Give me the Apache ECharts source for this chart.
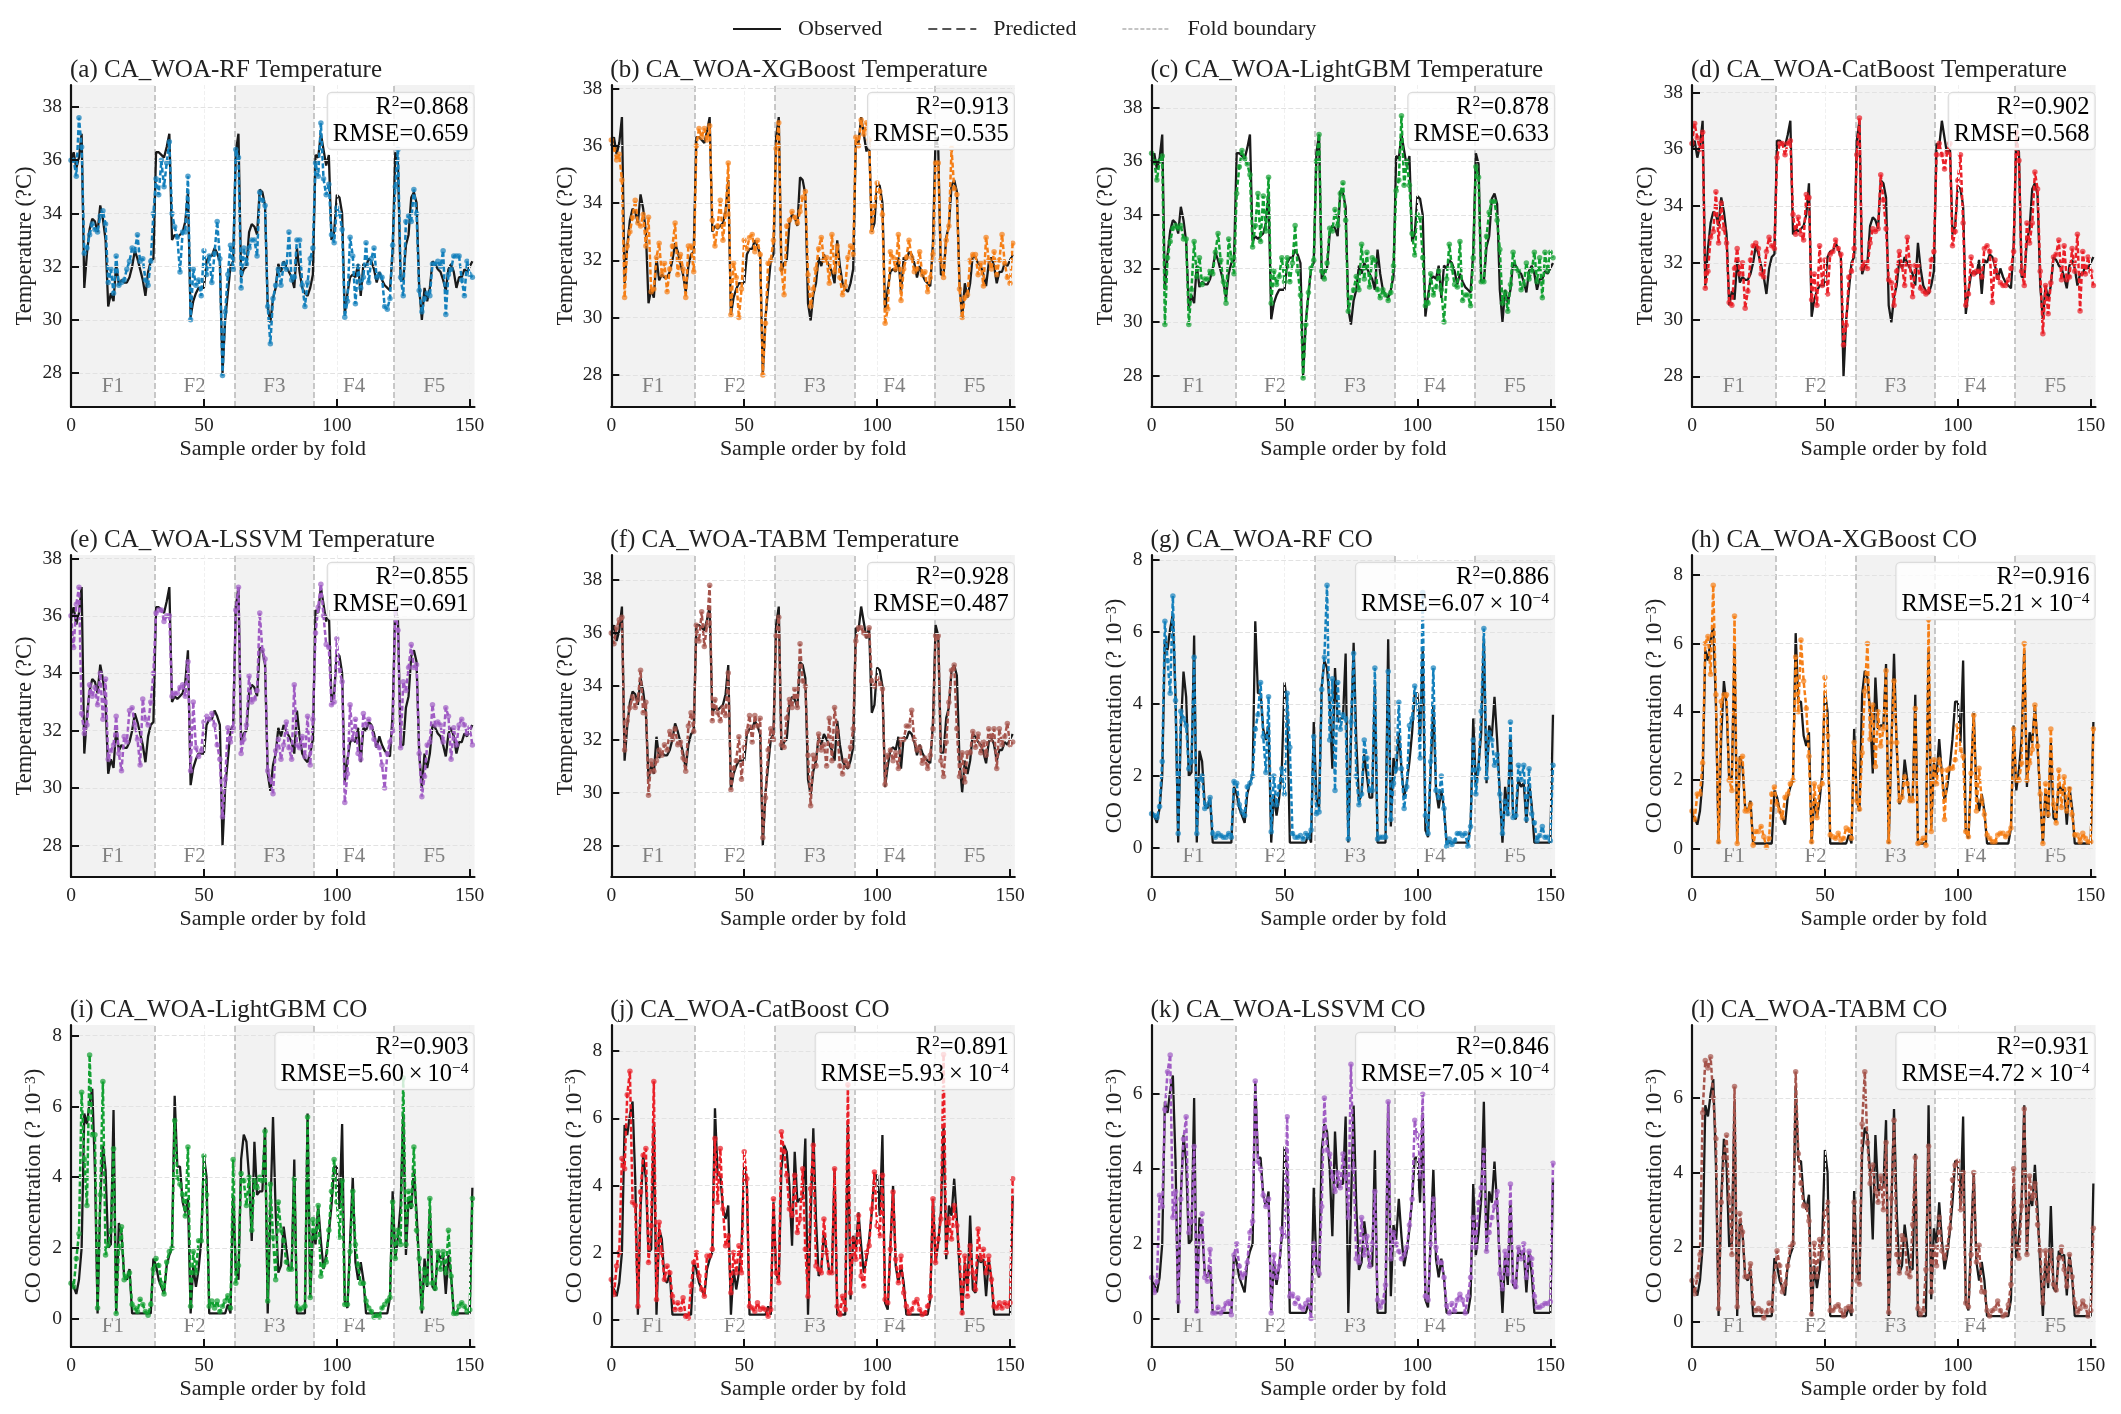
<!DOCTYPE html>
<html><head><meta charset="utf-8">
<script src="https://cdn.jsdelivr.net/npm/echarts@6/dist/echarts.min.js"></script>
<style>html,body{margin:0;padding:0;background:#fff}#c{width:2121px;height:1414px}</style>
</head><body><div id="c"></div>
<script>
const obsT=[
36.0,36.3,35.7,36.1,37.0,31.2,32.5,33.4,33.8,33.7,
33.3,34.3,33.8,33.0,30.5,31.0,30.7,32.1,31.3,31.5,
31.4,31.4,31.6,32.0,32.6,32.3,31.9,31.5,30.9,31.8,
32.2,32.3,36.3,36.3,36.2,36.1,36.5,37.0,33.0,33.2,
33.1,33.2,33.3,33.7,34.8,30.1,30.7,31.0,31.2,31.2,
31.2,32.2,32.4,32.4,32.7,32.5,32.2,28.0,30.0,31.0,
32.0,32.2,36.3,37.0,31.6,31.9,32.0,33.3,33.6,33.5,
33.2,34.9,34.8,34.3,30.5,29.9,30.8,31.2,32.1,31.8,
32.2,32.0,31.8,31.6,31.2,32.7,31.8,31.2,31.0,30.9,
31.2,31.7,36.2,36.1,37.0,36.4,35.8,36.2,33.0,33.3,
34.7,34.6,34.0,30.2,31.0,31.6,31.7,31.6,32.1,30.9,
32.1,32.0,32.3,32.2,31.9,31.4,31.8,31.5,31.3,31.2,
31.1,32.6,36.3,35.9,31.5,31.5,32.8,33.2,34.6,34.8,
34.4,31.2,30.0,31.2,30.7,31.2,32.2,32.1,31.9,31.8,
31.5,31.1,31.9,32.1,31.8,31.2,31.6,31.6,31.9,31.8,
32.0,32.2];
const obsCO=[
1.0,0.9,0.7,1.1,2.0,5.8,5.5,6.1,6.5,4.2,
0.15,3.3,4.9,4.2,2.0,2.1,5.9,0.15,2.7,2.4,
1.2,1.1,1.4,0.15,0.15,0.15,0.15,0.15,0.15,0.15,
0.15,1.7,1.5,1.1,0.9,0.7,1.5,1.8,2.0,6.3,
4.3,4.3,3.3,3.0,3.4,0.15,1.5,0.9,1.4,2.2,
4.6,4.0,0.15,0.15,0.15,0.15,0.15,0.15,0.15,0.4,
0.15,3.5,1.4,1.1,4.5,5.2,5.0,4.0,2.2,5.0,
3.5,3.6,3.6,5.4,0.15,3.0,5.7,3.0,1.3,1.5,
2.6,2.0,1.4,1.4,4.5,0.15,0.15,0.15,0.15,5.8,
0.6,2.5,2.1,3.2,2.2,1.4,1.8,2.4,3.2,4.3,
4.3,3.1,5.5,0.5,0.3,2.2,4.0,1.6,1.1,1.6,
1.1,0.15,0.15,0.15,0.15,0.15,0.15,0.15,0.15,0.15,
0.6,3.6,1.7,2.3,3.2,5.8,1.8,3.4,3.1,4.2,
3.0,1.5,0.15,1.7,0.9,3.1,0.9,0.8,1.9,1.7,
1.8,0.7,1.8,1.2,0.15,0.15,0.15,0.15,0.15,0.15,
0.15,3.7];
const predA=[
36.0,36.0,35.4,37.6,36.5,32.5,32.7,33.2,33.6,33.4,
33.3,33.9,34.1,33.6,31.4,31.9,31.0,32.4,31.3,31.4,
31.5,31.9,32.2,32.7,32.6,33.2,32.2,32.3,31.5,31.3,
32.2,34.0,35.3,34.7,36.0,35.0,35.9,36.7,34.0,33.5,
33.1,31.8,33.3,33.3,35.4,30.0,31.9,31.3,31.5,30.9,
32.6,31.7,32.4,31.4,32.5,33.7,32.3,27.9,30.3,31.7,
32.8,31.9,36.4,36.1,31.2,32.7,32.1,32.7,33.0,33.0,
32.4,34.8,34.5,34.3,30.5,29.1,30.8,31.3,31.9,31.3,
32.1,31.9,33.3,31.5,31.6,33.0,33.0,31.3,30.5,31.4,
32.3,32.7,35.9,35.4,37.4,35.3,34.7,35.1,33.2,32.9,
34.2,34.0,33.4,30.1,30.7,33.1,32.4,30.6,32.0,31.2,
31.6,32.9,31.4,32.3,32.7,31.6,31.7,31.6,30.5,30.4,
30.8,32.8,35.0,36.4,31.6,30.9,33.7,33.9,33.7,34.9,
34.0,31.1,30.3,30.8,31.0,30.9,32.1,32.1,32.2,32.0,
32.6,30.2,31.7,31.9,32.4,32.4,32.4,31.5,30.9,32.2,
31.7,31.6];
const predB=[
36.2,35.9,35.5,35.7,34.8,30.7,32.5,33.0,33.5,34.1,
33.3,33.2,33.6,32.5,33.5,30.9,31.0,32.1,32.6,31.5,
31.9,30.9,31.7,32.5,33.3,31.5,32.2,31.7,30.7,32.5,
32.5,31.6,36.0,36.6,36.3,36.6,36.2,36.7,33.4,32.5,
33.2,34.1,32.7,33.6,35.4,30.1,31.9,31.4,30.0,31.0,
32.7,32.4,32.8,32.9,32.3,32.7,32.2,28.0,29.8,31.9,
32.0,32.7,35.9,36.8,31.7,30.8,33.2,33.4,33.7,33.5,
33.3,33.7,34.2,34.4,31.5,30.4,31.0,31.7,32.4,32.8,
32.0,32.1,31.2,32.9,31.6,32.5,31.4,30.8,31.1,32.1,
32.5,32.2,36.3,36.0,36.9,36.4,36.8,36.2,33.0,33.9,
34.7,34.4,33.6,29.8,30.3,32.3,32.1,31.7,32.9,30.6,
31.7,32.1,32.7,32.1,31.6,31.7,32.3,31.5,31.6,30.9,
31.4,32.2,35.4,35.4,32.0,31.4,32.7,33.2,35.9,34.5,
34.3,31.0,30.0,30.7,30.8,32.0,32.2,32.2,31.5,31.9,
31.1,32.8,32.0,31.7,32.3,31.5,32.0,32.9,31.9,31.4,
31.2,32.6];
const predC=[
36.3,36.0,35.3,36.0,36.2,29.9,32.4,33.0,33.5,33.6,
33.5,33.6,33.1,33.1,29.9,31.2,33.0,31.7,32.4,31.4,
31.6,31.6,31.9,31.8,32.6,33.3,32.3,31.5,30.7,33.1,
32.4,31.8,34.8,35.8,36.4,36.1,35.9,35.5,32.8,33.6,
34.8,33.0,34.7,33.4,35.4,30.7,31.9,31.4,31.7,32.4,
31.5,32.4,31.5,32.2,33.6,31.9,31.0,27.9,29.9,31.1,
32.0,32.3,36.0,37.0,31.9,31.6,32.2,33.5,33.4,34.2,
33.6,34.8,35.2,33.8,30.4,30.9,31.2,31.7,31.2,32.9,
31.6,32.6,31.3,32.4,32.3,31.2,30.9,31.2,31.0,30.8,
31.1,32.1,34.9,35.3,37.7,35.1,36.0,35.1,33.3,32.5,
34.0,33.9,32.4,30.6,30.7,31.8,31.0,31.3,31.9,31.2,
30.0,31.6,32.9,32.0,31.4,31.3,33.0,30.8,31.0,31.0,
30.6,32.4,35.8,35.4,31.5,31.5,33.2,34.1,34.5,34.5,
33.8,32.7,30.7,31.1,30.4,31.4,32.6,32.0,31.9,31.2,
31.4,32.2,31.6,31.9,32.6,31.5,32.4,30.9,32.6,31.9,
32.6,32.4];
const predD=[
36.2,36.9,36.4,36.0,36.6,31.1,31.7,32.9,33.1,34.5,
32.7,34.1,33.2,32.7,30.6,30.5,31.8,32.5,31.6,32.0,
30.4,31.0,32.1,32.6,32.7,32.5,31.6,31.5,32.4,32.9,
32.6,32.5,35.7,36.2,36.2,35.8,36.2,36.3,33.7,33.0,
33.6,33.0,32.8,34.4,34.3,30.7,31.6,30.5,32.6,31.2,
32.1,30.9,32.3,32.4,32.8,32.5,32.3,29.1,29.8,31.5,
31.7,32.5,35.8,37.1,31.8,32.0,31.8,32.7,33.2,33.1,
33.2,35.1,34.2,33.2,31.4,31.3,30.5,31.7,32.4,31.9,
31.2,32.9,31.9,30.8,31.9,31.9,31.1,31.0,30.9,31.0,
32.1,32.4,35.8,36.2,35.8,35.3,35.9,36.2,32.6,33.1,
34.9,35.8,33.4,30.5,30.9,32.2,31.6,31.7,31.7,31.5,
32.5,32.6,32.4,30.6,32.1,31.5,31.3,31.2,31.2,31.4,
31.8,32.4,36.6,35.6,31.7,31.2,33.4,32.7,33.4,35.2,
34.6,31.7,29.5,31.2,30.2,31.3,32.2,32.3,32.8,31.4,
32.6,31.4,31.5,32.5,31.7,33.0,30.3,32.4,31.6,32.2,
31.7,31.2];
const predE=[
36.0,34.9,36.4,37.0,32.6,31.9,32.2,33.6,33.2,33.5,
32.9,34.0,32.4,33.8,31.0,31.3,31.5,32.5,31.2,30.6,
31.8,31.6,32.7,32.8,32.2,31.7,30.8,33.1,32.4,32.2,
33.0,34.0,36.1,36.2,36.2,35.8,36.0,36.0,33.2,33.3,
33.3,33.5,33.6,33.2,34.4,30.6,33.0,31.4,31.1,31.3,
32.3,32.5,32.4,32.6,32.2,31.5,31.0,29.0,30.3,32.1,
31.6,32.1,36.2,37.0,31.2,31.7,32.2,33.9,33.0,33.1,
33.4,36.1,34.8,34.5,30.6,30.3,29.8,31.3,31.7,31.0,
31.5,32.3,31.4,31.0,33.6,31.5,31.4,31.8,31.1,32.5,
30.8,32.4,35.4,36.3,37.1,36.0,35.0,34.9,32.9,33.0,
35.2,34.1,33.7,29.5,30.5,32.9,31.7,32.4,31.2,31.0,
32.6,32.2,32.4,32.1,31.7,31.5,31.4,30.8,30.0,31.2,
31.6,32.0,36.2,35.5,31.4,33.7,33.4,34.2,35.0,34.2,
34.3,31.2,29.7,30.4,31.5,31.6,32.9,32.2,32.3,32.2,
31.6,32.8,32.5,31.0,32.1,31.5,32.2,32.4,32.2,31.9,
32.1,31.5];
const predF=[
36.0,35.6,36.2,36.5,36.6,31.6,32.7,33.2,33.6,33.2,
33.5,34.6,33.0,33.4,29.9,31.2,30.8,31.2,31.6,31.4,
31.8,31.6,32.3,32.0,32.4,31.8,31.9,31.3,30.8,32.5,
33.0,32.3,36.3,35.7,36.8,35.5,36.3,37.8,32.7,33.5,
33.0,32.7,33.2,32.9,34.5,30.1,30.9,31.2,32.1,30.5,
31.7,32.3,32.9,31.9,32.9,32.5,32.8,28.3,29.8,31.6,
32.4,32.0,35.9,36.6,31.8,31.7,32.8,33.5,33.2,33.9,
33.2,35.6,34.2,34.0,31.4,29.5,31.4,31.0,32.2,31.6,
31.8,31.0,32.8,31.2,33.2,32.3,31.0,30.7,31.2,31.0,
31.7,32.4,35.7,36.2,36.2,36.0,35.9,36.2,34.2,34.0,
34.3,34.1,33.9,30.3,31.4,31.6,31.2,31.5,30.9,32.0,
32.0,32.5,32.5,33.1,32.0,31.6,31.7,31.1,31.3,30.9,
31.4,32.4,35.9,35.9,31.2,30.6,31.9,33.4,34.6,34.8,
32.4,30.6,31.5,30.4,31.5,31.5,32.3,31.7,32.2,31.5,
31.9,31.4,32.4,32.0,32.4,30.9,32.4,31.8,32.1,32.6,
31.8,31.9];
const predG=[
0.95,0.9,0.85,1.15,2.4,6.3,5.2,4.3,7.0,4.1,
0.4,3.8,3.6,3.4,2.2,2.4,5.3,0.4,1.9,2.0,
1.1,1.2,1.4,0.4,0.3,0.4,0.35,0.3,0.3,0.4,
0.3,1.85,1.8,1.2,1.0,0.9,1.7,1.8,2.0,3.3,
3.7,4.6,3.1,2.1,4.2,0.45,2.0,1.2,1.7,2.2,
1.5,4.3,2.8,0.4,0.3,0.3,0.35,0.25,0.4,0.3,
0.5,3.1,0.95,1.0,4.4,5.3,7.3,3.0,4.7,1.6,
4.6,3.3,3.7,3.6,0.25,3.5,5.4,2.0,1.2,1.5,
3.0,2.5,1.6,1.6,5.0,0.25,0.3,0.3,0.3,4.9,
0.8,1.8,2.2,4.05,2.2,1.1,1.7,3.4,3.6,4.5,
4.0,2.5,7.1,0.9,0.4,2.4,5.0,1.6,1.4,2.0,
1.1,0.05,0.25,0.1,0.2,0.4,0.4,0.35,0.4,0.05,
0.6,3.0,1.5,2.2,3.8,6.1,1.95,3.2,3.0,2.3,
2.6,1.5,0.4,1.3,0.95,3.5,0.85,0.9,2.3,1.9,
2.3,0.8,2.2,0.95,0.7,0.2,0.35,0.6,0.3,0.3,
0.2,2.3];
const predH=[
1.1,0.85,1.6,1.6,2.5,6.0,6.2,5.1,7.7,4.5,
0.2,4.3,4.5,4.5,2.0,1.7,6.8,0.15,2.6,2.7,
1.1,1.1,1.3,0.1,0.5,0.5,0.65,0.35,0.05,0.3,
1.6,1.8,1.3,1.1,0.9,1.5,1.6,1.9,2.0,5.6,
4.0,6.1,4.9,4.1,2.7,0.2,1.9,0.9,1.8,1.9,
5.0,3.3,0.4,0.35,0.3,0.45,0.25,0.3,0.6,0.55,
0.3,3.1,1.4,1.15,2.8,4.6,6.0,3.2,4.2,2.4,
4.0,3.0,3.5,5.2,0.2,3.1,4.9,3.1,1.4,1.5,
2.1,1.9,1.4,1.4,4.1,0.15,0.2,0.3,0.1,6.7,
0.5,2.6,1.9,2.6,2.3,0.85,2.3,2.35,2.35,2.6,
3.6,2.9,2.7,0.5,0.35,2.2,3.9,1.1,2.35,1.4,
1.0,0.4,0.3,0.2,0.2,0.4,0.45,0.45,0.35,0.45,
0.6,3.5,2.0,2.0,2.5,6.0,2.0,2.5,2.9,4.2,
3.0,1.6,0.15,1.9,1.0,3.5,1.3,0.75,2.3,1.2,
2.1,1.1,1.75,1.0,0.4,0.4,0.2,0.45,0.3,0.2,
0.2,3.5];
const predI=[
1.0,0.9,1.7,2.4,6.4,4.5,3.2,7.45,5.2,5.2,
0.3,3.5,6.7,1.8,2.1,2.5,4.8,0.15,2.0,2.6,
1.1,1.2,1.3,0.4,0.3,0.2,0.55,0.4,0.2,0.1,
0.4,1.4,1.7,1.5,1.0,0.7,1.6,1.9,2.0,5.6,
4.0,3.8,3.5,2.9,4.85,0.35,1.9,1.3,2.2,2.2,
4.6,3.5,0.35,0.5,0.3,0.5,0.2,0.35,0.5,0.65,
0.3,4.5,1.0,1.5,4.1,3.9,3.2,4.0,2.5,3.9,
3.7,4.0,3.9,5.3,0.5,3.8,2.3,1.1,3.3,2.5,
2.2,1.6,1.4,1.4,3.95,0.35,0.25,0.3,0.35,5.7,
0.6,2.8,2.3,3.2,1.2,1.5,1.6,2.5,3.6,4.5,
3.3,2.3,3.9,0.4,0.4,1.9,3.6,2.1,1.5,1.0,
1.0,0.5,0.3,0.2,0.05,0.1,0.05,0.3,0.4,0.5,
0.6,3.3,1.7,2.5,2.1,6.8,2.1,3.6,3.2,4.85,
2.5,1.7,0.3,1.4,1.0,3.4,1.0,0.85,1.9,1.4,
1.9,1.3,2.5,1.2,0.15,0.15,0.35,0.45,0.35,0.2,
0.25,3.4];
const predJ=[
1.2,0.75,1.6,2.0,4.8,4.5,6.7,7.4,3.5,3.4,
0.4,3.8,4.9,5.1,1.7,2.8,7.1,0.6,2.9,2.0,
1.2,1.6,1.4,0.7,0.3,0.5,0.3,0.65,0.1,0.05,
1.0,1.7,2.0,1.3,0.9,0.7,1.9,1.9,2.1,5.4,
3.5,5.1,3.3,2.2,2.5,0.8,2.0,1.4,2.2,1.4,
5.0,4.2,0.4,0.35,0.25,0.5,0.3,0.35,0.3,0.1,
0.3,3.6,1.4,1.1,5.6,5.0,4.3,3.3,3.1,4.3,
2.6,3.0,4.5,2.1,0.7,3.9,5.2,1.6,1.5,1.4,
3.0,2.0,1.4,1.4,4.5,0.4,0.15,0.7,0.3,7.0,
0.8,2.4,1.8,3.1,1.3,1.0,2.0,2.2,3.3,4.4,
2.8,2.5,4.3,0.6,0.5,2.1,3.8,1.8,1.1,1.9,
0.8,0.4,0.2,0.3,0.5,0.6,0.3,0.15,0.2,0.4,
0.7,3.6,1.7,2.4,3.0,7.9,2.0,3.0,2.4,3.4,
2.8,2.0,0.2,1.9,0.7,2.2,1.4,0.9,2.7,1.8,
2.1,1.4,1.9,1.2,0.4,0.35,0.5,0.35,0.5,0.4,
0.5,4.2];
const predK=[
1.1,0.7,1.0,3.3,3.0,5.6,6.6,7.05,2.7,3.4,
0.45,3.2,4.8,5.4,2.3,2.6,4.6,0.2,2.2,2.8,
1.1,1.0,1.85,0.15,0.15,0.3,0.15,0.25,0.4,0.45,
0.1,1.7,2.0,1.4,1.1,1.2,1.5,2.3,2.6,6.35,
4.2,4.0,3.3,3.0,3.2,0.15,1.7,1.1,1.4,2.4,
2.2,5.4,0.6,0.65,0.4,0.55,0.3,0.25,0.4,0.5,
0.0,2.0,1.5,1.2,3.0,5.9,4.5,4.4,3.8,3.4,
3.9,3.5,4.4,3.8,2.7,6.8,4.0,1.6,1.5,2.7,
1.7,2.2,1.4,2.0,3.4,0.5,0.3,0.45,0.9,5.8,
1.6,2.3,2.0,1.8,1.6,1.7,1.9,2.5,3.2,5.3,
4.9,3.8,6.0,0.6,0.5,2.0,3.2,1.9,1.5,1.5,
1.1,0.35,0.15,0.4,0.2,0.5,0.65,0.5,0.15,0.6,
1.1,2.7,1.9,3.1,3.5,4.5,1.8,2.3,2.7,3.0,
3.4,1.2,0.8,1.8,1.2,3.6,1.0,0.85,1.9,1.6,
2.0,1.1,1.8,1.6,0.6,0.3,0.3,0.35,0.4,0.4,
0.45,4.15];
const predL=[
1.1,0.75,1.2,1.8,5.6,7.0,6.8,7.1,6.0,4.9,
0.35,3.2,4.4,5.0,3.3,1.8,6.3,0.4,2.9,2.4,
1.2,1.2,1.55,0.5,0.3,0.35,0.3,0.1,0.25,0.5,
0.3,1.2,1.9,1.5,0.8,1.0,1.5,2.0,2.1,6.7,
4.5,3.7,3.1,3.1,2.7,0.2,2.1,1.2,2.2,1.7,
2.9,3.2,0.3,0.3,0.4,0.45,0.3,0.15,0.35,0.4,
0.3,3.2,1.1,1.0,5.3,6.7,4.8,3.7,4.2,3.5,
3.2,3.9,3.0,4.8,0.25,3.3,5.4,1.8,1.3,2.3,
2.2,1.3,1.2,2.6,4.4,0.35,0.2,0.3,1.4,4.7,
0.8,2.0,1.5,2.8,1.9,1.7,2.0,2.5,3.8,4.2,
4.3,3.0,4.0,0.5,0.4,1.8,4.0,1.6,2.05,0.8,
0.8,0.3,0.15,0.3,0.35,0.55,0.3,0.15,0.2,0.45,
1.0,4.1,2.0,1.7,3.1,5.7,1.8,3.9,3.3,3.7,
2.6,1.9,0.5,1.9,1.1,1.9,1.0,0.85,1.7,2.0,
1.4,0.95,1.8,1.2,0.5,0.25,0.35,0.55,0.4,0.15,
0.3,2.5];

const letters=['a','b','c','d','e','f','g','h','i','j','k','l'];
const models=['RF','XGBoost','LightGBM','CatBoost','LSSVM','TABM','RF','XGBoost','LightGBM','CatBoost','LSSVM','TABM'];
const targets=['Temperature','Temperature','Temperature','Temperature','Temperature','Temperature','CO','CO','CO','CO','CO','CO'];
const predictions=[predA,predB,predC,predD,predE,predF,predG,predH,predI,predJ,predK,predL];
const r2Values=['0.868','0.913','0.878','0.902','0.855','0.928','0.886','0.916','0.903','0.891','0.846','0.931'];
const rmseValues=['0.659','0.535','0.633','0.568','0.691','0.487','6.07','5.21','5.60','5.93','7.05','4.72'];
const colors=['#1480BC','#F57F17','#12A032','#EA2028','#A05CC4','#A5544C','#1480BC','#F57F17','#12A032','#EA2028','#A05CC4','#A5544C'];
const yMins=[26.72,26.88,26.82,26.92,26.9,26.82,-0.806,-0.83,-0.80,-0.815,-0.76,-0.68];
const yMaxs=[38.83,38.12,38.85,38.26,38.12,38.94,8.14,8.585,8.3,8.78,7.85,7.95];
const tTicks=[28,30,32,34,36,38], coTicks=[0,2,4,6,8], coTicksShort=[0,2,4,6];
const xTicks=[0,50,100,150];
const foldEdges=[0,31.5,61.5,91.5,121.5,151.8];
const foldNames=['F1','F2','F3','F4','F5'];
const xMax=151.8;

const FONT='"Liberation Serif","Times New Roman",serif';
const lefts=[71,611.3,1151.6,1692], tops=[85,555,1025], W=403.5, H=322;
const sup={fontFamily:FONT,fontSize:15.5,verticalAlign:'top',lineHeight:22,color:'#222'};
const grid=[],xAxis=[],yAxis=[],series=[],title=[],graphic=[];

letters.forEach((L,i)=>{
  const gl=lefts[i%4], gt=tops[Math.floor(i/4)], isT=targets[i]==='Temperature';
  grid.push({left:gl,top:gt,width:W,height:H});
  title.push({text:'('+L+') CA_WOA-'+models[i]+' '+targets[i],left:gl-1,top:gt-27,
    textStyle:{fontFamily:FONT,fontSize:25,fontWeight:'normal',color:'#222'},padding:0});
  xAxis.push({gridIndex:i,type:'value',min:0,max:xMax,interval:50,z:10,
    name:'Sample order by fold',nameLocation:'middle',nameGap:31,
    nameTextStyle:{fontFamily:FONT,fontSize:22,color:'#222'},
    axisLine:{show:true,onZero:false,lineStyle:{color:'#111',width:2.2}},
    axisTick:{show:true,inside:true,length:8,lineStyle:{color:'#111',width:2},customValues:xTicks},
    axisLabel:{fontFamily:FONT,fontSize:19.5,color:'#222',margin:9,customValues:xTicks},
    splitLine:{show:true,lineStyle:{color:'#f0f0f0',width:1,type:'dashed'}}});
  const ticks=isT?tTicks:(yMaxs[i]<8?coTicksShort:coTicks);
  yAxis.push({gridIndex:i,type:'value',min:yMins[i],max:yMaxs[i],z:10,
    name:isT?'Temperature (?C)':'CO concentration (? 10{s|\u22123})',
    nameLocation:'middle',nameGap:isT?34:25,
    nameTextStyle:{fontFamily:FONT,fontSize:22.5,color:'#222',rich:{s:Object.assign({},sup)}},
    axisLine:{show:true,onZero:false,lineStyle:{color:'#111',width:2.2}},
    axisTick:{show:true,inside:true,length:8,lineStyle:{color:'#111',width:2},customValues:ticks},
    axisLabel:{fontFamily:FONT,fontSize:19.5,color:'#222',margin:9,customValues:ticks},
    splitLine:{show:true,lineStyle:{color:'#e2e2e2',width:1.2,type:'dashed'}}});

  const areas=foldNames.map((n,k)=>[
    {xAxis:foldEdges[k],name:n,
      itemStyle:{color:k%2===0?'#f2f2f2':'rgba(255,255,255,0)'},
      label:{show:true,position:'insideBottom',distance:10,formatter:n,fontFamily:FONT,fontSize:21,color:'#808080'}},
    {xAxis:foldEdges[k+1]}]);
  const obs=(isT?obsT:obsCO).map((v,k)=>[k,v]);
  const pred=predictions[i].map((v,k)=>[k,v]);
  series.push({type:'line',name:'obs-'+L,xAxisIndex:i,yAxisIndex:i,data:obs,showSymbol:false,symbol:'none',z:3,
    lineStyle:{color:'#1a1a1a',width:2.3},silent:true,
    markArea:{silent:true,z:1,data:areas},
    markLine:{silent:true,symbol:'none',z:2,label:{show:false},
      lineStyle:{color:'#b8b8b8',width:1.5,type:'dashed'},
      data:foldEdges.slice(1,5).map(x=>({xAxis:x}))}});
  series.push({type:'line',name:'pred-'+L,xAxisIndex:i,yAxisIndex:i,data:pred,symbol:'circle',symbolSize:5.5,showSymbol:true,z:4,
    showAllSymbol:true,silent:true,
    lineStyle:{color:colors[i],width:2.5,type:[5,2.5]},
    itemStyle:{color:colors[i],opacity:0.7}});

  const rmseText=isT?'{r|RMSE='+rmseValues[i]+'}':'{r|RMSE='+rmseValues[i]+'\u2009\u00d7\u200910}{s|\u22124}';
  graphic.push({type:'text',z:100,x:gl+W-1,y:gt+8,silent:true,
    style:{text:'{r|R}{s|2}{r|='+r2Values[i]+'}\n'+rmseText,align:'right',verticalAlign:'top',
      backgroundColor:'rgba(255,255,255,0.8)',borderColor:'#dcdcdc',borderWidth:1.2,borderRadius:4,padding:[1,5,1,5],
      rich:{r:{fontFamily:FONT,fontSize:24.5,lineHeight:27,color:'#222'},s:Object.assign({},sup)}}});
});

// legend entries
series.push({type:'line',name:'Observed',xAxisIndex:0,yAxisIndex:0,data:[],symbol:'none',itemStyle:{opacity:0},lineStyle:{color:'#1a1a1a',width:2.4}});
series.push({type:'line',name:'Predicted',xAxisIndex:0,yAxisIndex:0,data:[],symbol:'none',itemStyle:{opacity:0},lineStyle:{color:'#555',width:2.4,type:[9,5]}});
series.push({type:'line',name:'Fold boundary',xAxisIndex:0,yAxisIndex:0,data:[],symbol:'none',itemStyle:{opacity:0},lineStyle:{color:'#c4c4c4',width:1.5,type:[4,2]}});

const chart=echarts.init(document.getElementById('c'),null,{renderer:'canvas'});
chart.setOption({animation:false,backgroundColor:'#fff',tooltip:{show:false},
  legend:{left:727,top:13,selectedMode:false,itemWidth:48,itemHeight:14,itemGap:45,
    itemStyle:{opacity:0},
    data:['Observed','Predicted','Fold boundary'],
    textStyle:{fontFamily:FONT,fontSize:22,color:'#222',padding:[0,0,0,12]}},
  grid,xAxis,yAxis,series,title,graphic});
</script></body></html>
